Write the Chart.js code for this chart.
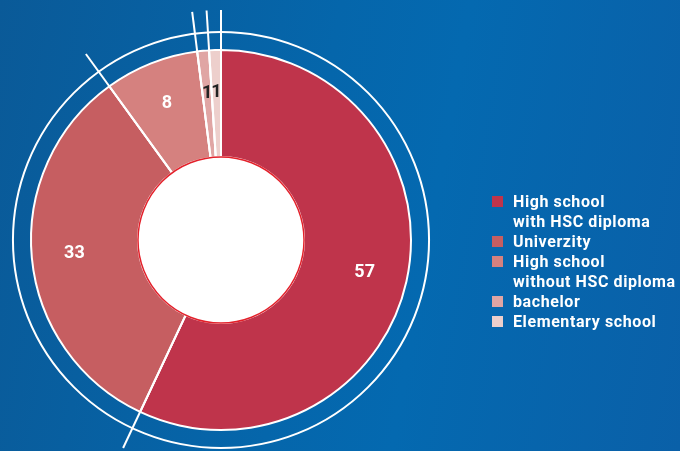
<!DOCTYPE html>
<html>
<head>
<meta charset="utf-8">
<script src="https://cdn.jsdelivr.net/npm/chart.js@4/dist/chart.umd.min.js"></script>
<style>
  html, body { margin: 0; padding: 0; }
  body {
    width: 680px;
    height: 451px;
    overflow: hidden;
    background: linear-gradient(100deg, #0a5a98 0%, #0566ab 45%, #0469b0 62%, #0a60a8 100%);
  }
  #wrap { position: relative; width: 680px; height: 451px; }
</style>
</head>
<body>
<div id="wrap"><canvas id="chartEdu"></canvas></div>
<script>
// Struttura per livello di istruzione (%)
const categories = [
  ['High school', 'with HSC diploma'],
  ['Univerzity'],
  ['High school', 'without HSC diploma'],
  ['bachelor'],
  ['Elementary school']
];
const shares = [57, 33, 8, 1, 1];
const sliceColors = ['#bf344b', '#c65e61', '#d5817f', '#e0a5a4', '#edcfcc'];
const labelColors = ['#ffffff', '#ffffff', '#ffffff', '#222222', '#222222'];

// ------------------------------
// Plugin: anello esterno, linee radiali, cerchio centrale, etichette e legenda
const decorPlugin = {
  id: 'decor',
  afterDatasetsDraw(chart) {
    const ctx = chart.ctx;
    const arcs = chart.getDatasetMeta(0).data;
    if (!arcs.length) return;
    const { x, y, innerRadius, outerRadius } = arcs[0].getProps(['x', 'y', 'innerRadius', 'outerRadius'], true);

    ctx.save();
    // anello bianco esterno
    ctx.strokeStyle = '#ffffff';
    ctx.lineWidth = 2;
    ctx.beginPath();
    ctx.arc(x, y, outerRadius * 1.095, 0, Math.PI * 2);
    ctx.stroke();

    // linee sui confini delle fette
    ctx.lineWidth = 2;
    arcs.forEach(a => {
      const ang = a.startAngle;
      ctx.beginPath();
      ctx.moveTo(x + Math.cos(ang) * innerRadius, y + Math.sin(ang) * innerRadius);
      ctx.lineTo(x + Math.cos(ang) * outerRadius * 1.21, y + Math.sin(ang) * outerRadius * 1.21);
      ctx.stroke();
    });

    // cerchio centrale
    ctx.beginPath();
    ctx.arc(x, y, innerRadius, 0, Math.PI * 2);
    ctx.fillStyle = '#ffffff';
    ctx.fill();
    ctx.strokeStyle = '#e3212b';
    ctx.lineWidth = 1.5;
    ctx.stroke();

    // valori
    ctx.font = 'bold 18px Roboto';
    ctx.textAlign = 'center';
    ctx.textBaseline = 'middle';
    arcs.forEach((a, i) => {
      const mid = (a.startAngle + a.endAngle) / 2;
      const r = innerRadius + (outerRadius - innerRadius) * 0.6;
      ctx.fillStyle = labelColors[i];
      ctx.fillText(String(shares[i]), x + Math.cos(mid) * r, y + Math.sin(mid) * r);
    });

    // legenda
    const lx = 492, tx = 513, lineH = 20;
    let by = 207;
    ctx.font = 'bold 16px Roboto';
    ctx.letterSpacing = '0.6px';
    ctx.textAlign = 'left';
    ctx.textBaseline = 'alphabetic';
    categories.forEach((lines, i) => {
      ctx.fillStyle = sliceColors[i];
      ctx.fillRect(lx, by - 11, 11, 11);
      ctx.fillStyle = '#ffffff';
      lines.forEach(t => {
        ctx.fillText(t, tx, by);
        by += lineH;
      });
    });
    ctx.restore();
  }
};

const ctxEdu = document.getElementById('chartEdu').getContext('2d');
const chartEdu = new Chart(ctxEdu, {
  type: 'doughnut',
  data: {
    labels: categories.map(c => c.join(' ')),
    datasets: [{
      data: shares,
      backgroundColor: sliceColors,
      borderColor: '#ffffff',
      borderWidth: 2
    }]
  },
  options: {
    responsive: true,
    maintainAspectRatio: false,
    animation: false,
    events: [],
    cutout: '43.7%',
    layout: {
      padding: { left: 30, right: 268, top: 49, bottom: 20 }
    },
    plugins: {
      legend: { display: false },
      tooltip: { enabled: false }
    }
  },
  plugins: [decorPlugin]
});
</script>
</body>
</html>
